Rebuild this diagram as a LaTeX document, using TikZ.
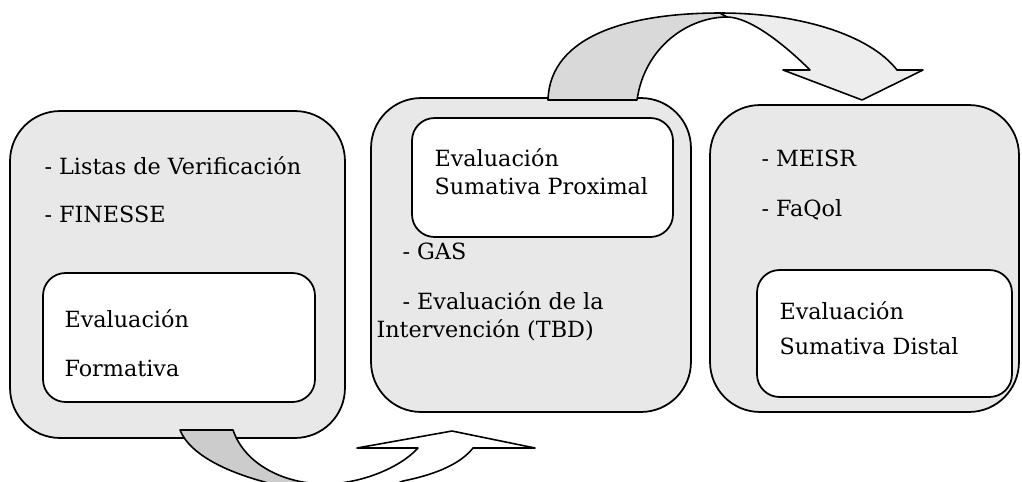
\documentclass[tikz,border=0pt]{standalone}
\usepackage{fontspec}
\setmainfont{DejaVu Serif}
\usetikzlibrary{calc}

\tikzset{
  stagebox/.style={draw,rectangle,rounded corners=1cm,line width=1pt,fill=black!9},
  evalbox/.style={draw,rectangle,rounded corners=4.5mm,line width=1pt,fill=white},
  txt/.style={anchor=base west,inner sep=0pt,font=\fontsize{12.7}{15}\selectfont},
  arrowback/.style={draw,line width=0.9pt,line join=round},
  arrowfront/.style={draw,line width=0.9pt,line join=round}
}

\begin{document}
\begin{tikzpicture}[x=0.02cm,y=-0.02cm]
\useasboundingbox (0,0) rectangle (1022,481);
\clip (0,0) rectangle (1022,481);

% stages
\draw node [stagebox, minimum width=6.7cm, minimum height=6.54cm](form) at (177.5,274.5){};
\draw node [evalbox, minimum width=5.44cm, minimum height=2.58cm](formin) at (179,337.5){};
\draw node [stagebox, minimum width=6.4cm, minimum height=6.28cm](prox) at (531,255){};
\draw node [evalbox, minimum width=5.22cm, minimum height=2.38cm](proxin) at (542.5,177.5){};
\draw node [stagebox, minimum width=6.18cm, minimum height=6.14cm](dist) at (864.5,258.5){};
\draw node [evalbox, minimum width=5.1cm, minimum height=2.54cm](distin) at (884.5,333.5){};

% formativa
\draw node [txt] at ($ (form.north west)+(35,64)$){- Listas de Verificación};
\draw node [txt] at ($ (form.north west)+(35,112)$){- FINESSE};
\draw node [txt] at ($ (formin.north west)+(22,55)$){Evaluación};
\draw node [txt] at ($ (formin.north west)+(22,104)$){Formativa};

% proximal
\draw node [txt] at ($ (proxin.north west)+(23,49)$){Evaluación};
\draw node [txt] at ($ (proxin.north west)+(23,77)$){Sumativa Proximal};
\draw node [txt] at ($ (prox.north west)+(32,162)$){- GAS};
\draw node [txt] at ($ (prox.north west)+(32,212)$){- Evaluación de la};
\draw node [txt] at ($ (prox.north west)+(6,240)$){Intervención (TBD)};

% distal
\draw node [txt] at ($ (dist.north west)+(52,62)$){- MEISR};
\draw node [txt] at ($ (dist.north west)+(52,112)$){- FaQol};
\draw node [txt] at ($ (distin.north west)+(23,50)$){Evaluación};
\draw node [txt] at ($ (distin.north west)+(23,85)$){Sumativa Distal};

% curved arrow, bottom
\draw[arrowback,fill=black!20] (180,430) -- (233,430) .. controls (245,465) and (285,484) .. (325,484)
  -- (325,490) -- (300,490) .. controls (230,477) and (190,455) .. (180,430) -- cycle;
\draw[arrowfront,fill=white] (357,448) -- (452,431) -- (535,448) -- (473,448)
  .. controls (465,458) and (448,472) .. (403,481) -- (380,490) -- (330,490) -- (325,484)
  .. controls (360,484) and (400,468) .. (418,448) -- cycle;

% curved arrow, top
\draw[arrowback,fill=black!15] (548,100) -- (637,100) .. controls (645,45) and (690,17) .. (727,17)
  -- (720,13) .. controls (630,13) and (550,35) .. (548,100) -- cycle;
\draw[arrowfront,fill=black!7] (720,13) .. controls (800,13) and (870,35) .. (897,70)
  -- (923,70) -- (862,100) -- (783,70) -- (810,70)
  .. controls (785,45) and (750,17) .. (727,17) -- cycle;

\end{tikzpicture}
\end{document}
